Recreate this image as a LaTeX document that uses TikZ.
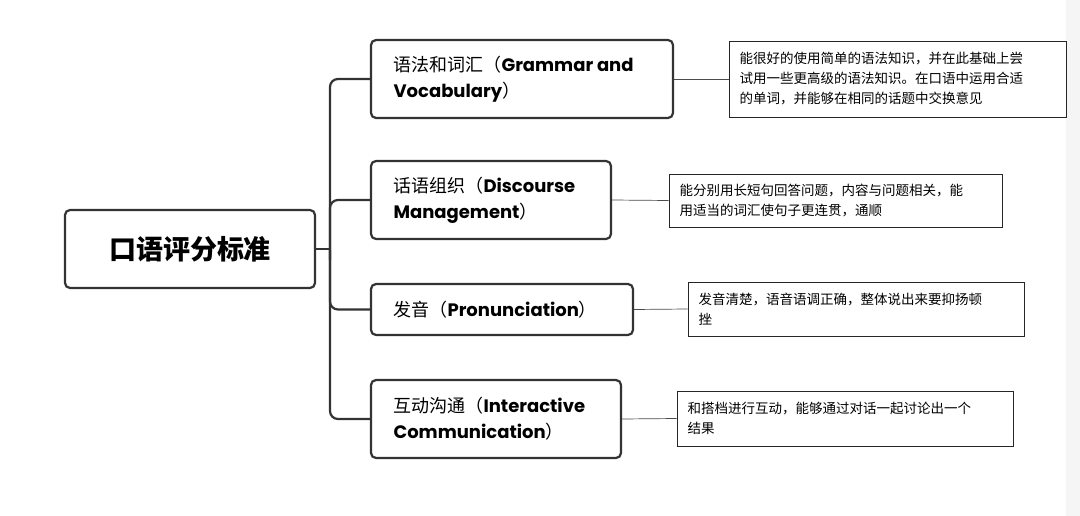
\documentclass[tikz,border=0pt]{standalone}
\usepackage{fontspec}
\newfontfamily\cjk{Noto Sans CJK SC}
\newfontfamily\lat{Poppins}
\usetikzlibrary{positioning}
\tikzset{
  topic/.style={draw=black!80, line width=2.2pt, rounded corners=5pt, inner sep=0pt},
  note/.style={draw=black!85, line width=0.8pt, inner sep=0pt},
  trunk/.style={draw=black!80, line width=2.2pt, rounded corners=8pt},
  link/.style={draw=black!70, line width=0.7pt}
}
\newcommand{\en}[1]{{\lat\bfseries #1}}
\begin{document}
\begin{tikzpicture}[x=1pt,y=-1pt,font=\cjk]
\fill[white] (0,0) rectangle (1080,516);
\fill[black!4] (1066,0) rectangle (1080,516);
% root
\node[topic, minimum width=250pt, minimum height=78pt, font=\cjk\bfseries\fontsize{27}{30}\selectfont] (root) at (190,249) {口语评分标准};
% topics
\node[topic, minimum width=302pt, minimum height=78pt] (gv) at (522,79) {};
\node[anchor=west, align=left, font=\cjk\fontsize{18}{26}\selectfont] at (390,79) {语法和词汇（\en{Grammar and}\\\en{Vocabulary}）};
\node[topic, minimum width=240pt, minimum height=78pt] (dm) at (491,200) {};
\node[anchor=west, align=left, font=\cjk\fontsize{18}{26}\selectfont] at (390,200) {话语组织（\en{Discourse}\\\en{Management}）};
\node[topic, minimum width=262pt, minimum height=51pt] (pr) at (502,309.5) {};
\node[anchor=west, align=left, font=\cjk\fontsize{18}{26}\selectfont] at (390,309.5) {发音（\en{Pronunciation}）};
\node[topic, minimum width=250pt, minimum height=78pt] (ic) at (496,419) {};
\node[anchor=west, align=left, font=\cjk\fontsize{18}{26}\selectfont] at (390,419) {互动沟通（\en{Interactive}\\\en{Communication}）};
% notes
\node[note, minimum width=337pt, minimum height=76pt] (n1) at (897.5,79) {};
\node[anchor=west, align=left, font=\cjk\fontsize{13.5}{20}\selectfont] at (736,79) {能很好的使用简单的语法知识，并在此基础上尝\\试用一些更高级的语法知识。在口语中运用合适\\的单词，并能够在相同的话题中交换意见};
\node[note, minimum width=333pt, minimum height=53pt] (n2) at (835.5,200.5) {};
\node[anchor=west, align=left, font=\cjk\fontsize{13.5}{20}\selectfont] at (676,200.5) {能分别用长短句回答问题，内容与问题相关，能\\用适当的词汇使句子更连贯，通顺};
\node[note, minimum width=336pt, minimum height=54pt] (n3) at (856,309) {};
\node[anchor=west, align=left, font=\cjk\fontsize{13.5}{20}\selectfont] at (695,309) {发音清楚，语音语调正确，整体说出来要抑扬顿\\挫};
\node[note, minimum width=336pt, minimum height=55pt] (n4) at (845,418.5) {};
\node[anchor=west, align=left, font=\cjk\fontsize{13.5}{20}\selectfont] at (684,418.5) {和搭档进行互动，能够通过对话一起讨论出一个\\结果};
% branches
\coordinate (hub) at (330,249);
\draw[trunk] (root.east) -- (hub);
\draw[trunk] (gv.west) -- (330,79) -- (330,419) -- (ic.west);
\draw[trunk] (dm.west) -- (330,200) -- (330,260);
\draw[trunk] (pr.west) -- (330,309.5) -- (330,250);
\draw[link] (gv.east) -- (n1.west);
\draw[link] (dm.east) -- (n2.west);
\draw[link] (pr.east) -- (n3.west);
\draw[link] (ic.east) -- (n4.west);
\end{tikzpicture}
\end{document}
